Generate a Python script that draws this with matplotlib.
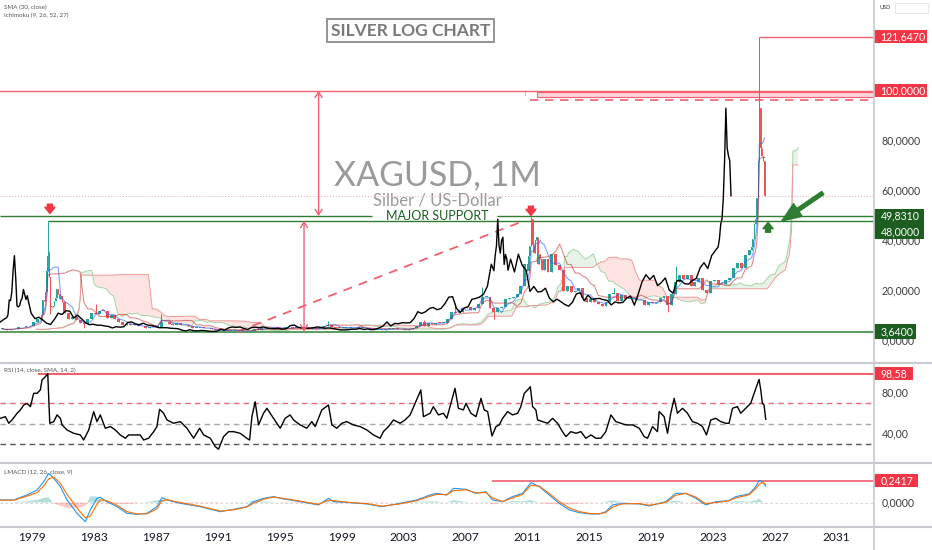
import numpy as np
import pandas as pd
import matplotlib
matplotlib.use("Agg")
import matplotlib.pyplot as plt
import matplotlib.transforms as mtransforms
from matplotlib.patches import Rectangle
from matplotlib.lines import Line2D

plt.rcParams['font.family'] = ['Lato', 'DejaVu Sans']

# XAGUSD candles: start month of each candle (quarterly, monthly around the spikes) and close
months = """
1977-01 1977-04 1977-07 1977-10
1978-01 1978-04 1978-07 1978-10
1979-01 1979-04 1979-07 1979-08 1979-09 1979-10 1979-11 1979-12
1980-01 1980-02 1980-03 1980-04 1980-05 1980-06 1980-07 1980-08 1980-09 1980-10 1980-11 1980-12
1981-01 1981-04 1981-07 1981-10
1982-01 1982-04 1982-07 1982-10
1983-01 1983-04 1983-07 1983-10
1984-01 1984-04 1984-07 1984-10
1985-01 1985-04 1985-07 1985-10
1986-01 1986-04 1986-07 1986-10
1987-01 1987-04 1987-07 1987-10
1988-01 1988-04 1988-07 1988-10
1989-01 1989-04 1989-07 1989-10
1990-01 1990-04 1990-07 1990-10
1991-01 1991-04 1991-07 1991-10
1992-01 1992-04 1992-07 1992-10
1993-01 1993-04 1993-07 1993-10
1994-01 1994-04 1994-07 1994-10
1995-01 1995-04 1995-07 1995-10
1996-01 1996-04 1996-07 1996-10
1997-01 1997-04 1997-07 1997-10
1998-01 1998-04 1998-07 1998-10
1999-01 1999-04 1999-07 1999-10
2000-01 2000-04 2000-07 2000-10
2001-01 2001-04 2001-07 2001-10
2002-01 2002-04 2002-07 2002-10
2003-01 2003-04 2003-07 2003-10
2004-01 2004-04 2004-07 2004-10
2005-01 2005-04 2005-07 2005-10
2006-01 2006-04 2006-07 2006-10
2007-01 2007-04 2007-07 2007-10
2008-01 2008-04 2008-07 2008-10
2009-01 2009-04 2009-07 2009-10
2010-01 2010-04 2010-07 2010-10
2011-01 2011-02 2011-03 2011-04 2011-05 2011-06 2011-07 2011-08 2011-09 2011-10 2011-11 2011-12
2012-01 2012-04 2012-07 2012-10
2013-01 2013-04 2013-07 2013-10
2014-01 2014-04 2014-07 2014-10
2015-01 2015-04 2015-07 2015-10
2016-01 2016-04 2016-07 2016-10
2017-01 2017-04 2017-07 2017-10
2018-01 2018-04 2018-07 2018-10
2019-01 2019-04 2019-07 2019-10
2020-01 2020-04 2020-07 2020-10
2021-01 2021-04 2021-07 2021-10
2022-01 2022-04 2022-07 2022-10
2023-01 2023-04 2023-07 2023-10
2024-01 2024-04 2024-07 2024-10
2025-01 2025-04 2025-07 2025-08 2025-09 2025-10 2025-11 2025-12
2026-01 2026-02 2026-03 2026-04 2026-05
""".split()

close = [
    4.60, 4.45, 4.55, 4.80,
    5.30, 5.35, 5.70, 6.00,
    7.50, 8.60, 9.20, 10.30, 16.30, 16.00, 19.50, 28.00,
    34.00, 25.50, 14.00, 13.50, 14.00, 16.00, 17.00, 20.50, 18.50, 16.50, 18.00, 15.50,
    11.0, 8.8, 9.4, 8.3,
    7.0, 6.5, 8.5, 11.0,
    10.5, 12.0, 11.8, 9.1,
    10.2, 8.8, 7.3, 6.4,
    6.6, 6.2, 6.2, 5.9,
    5.7, 5.1, 5.6, 5.4,
    5.6, 7.3, 7.5, 6.7,
    6.4, 7.0, 6.3, 6.1,
    5.8, 5.2, 5.2, 5.2,
    5.0, 4.9, 4.8, 4.2,
    3.9, 4.4, 4.0, 3.9,
    4.1, 4.0, 3.8, 3.7,
    3.8, 4.6, 4.2, 5.1,
    5.5, 5.3, 5.5, 4.9,
    4.5, 5.3, 5.4, 5.2,
    5.5, 5.1, 4.9, 4.8,
    4.9, 4.6, 4.8, 6.0,
    6.3, 5.4, 5.1, 5.0,
    5.0, 5.2, 5.5, 5.3,
    5.0, 5.1, 4.9, 4.6,
    4.3, 4.3, 4.4, 4.6,
    4.6, 4.9, 4.5, 4.7,
    4.4, 4.6, 5.1, 5.9,
    7.5, 5.9, 6.9, 6.8,
    7.2, 7.1, 7.2, 8.8,
    11.6, 10.9, 11.6, 12.9,
    13.3, 12.4, 12.9, 14.8,
    17.4, 17.6, 12.9, 11.3,
    13.1, 13.6, 16.6, 16.9,
    17.5, 18.6, 21.8, 30.6,
    28.0, 34.0, 37.9, 48.6, 38.1, 35.0, 40.1, 41.4, 30.5, 34.5, 32.8, 28.2,
    32.6, 27.5, 34.6, 30.1,
    28.3, 19.7, 21.7, 19.5,
    19.7, 21.0, 17.1, 15.6,
    16.6, 15.6, 14.5, 13.8,
    15.4, 18.7, 19.2, 16.0,
    18.2, 16.6, 16.8, 16.9,
    16.4, 16.1, 14.3, 15.5,
    15.1, 15.3, 17.0, 17.9,
    14.2, 18.7, 23.6, 26.4,
    24.5, 26.1, 22.0, 23.3,
    25.1, 20.3, 19.0, 24.0,
    24.1, 22.8, 22.6, 24.1,
    24.9, 29.1, 31.2, 28.9,
    34.1, 36.1, 37.5, 40.7, 46.6, 48.7, 57.0, 72.0,
    93.0, 77.0, 74.0, 72.0, 58.0,
]

# wicks that stick out of the candle bodies
wick_months = ['1980-01', '1980-02', '1983-01', '1987-04', '1993-07', '1998-01', '2004-04',
               '2006-04', '2008-01', '2011-04', '2016-07', '2020-07', '2026-01']
wick_high = [48.0, 36.0, 14.5, 10.8, 5.4, 7.8, 8.3, 15.2, 21.3, 49.831, 21.0, 29.9, 121.647]
dip_months = ['1980-03', '1982-04', '1991-01', '1993-01', '2008-10', '2020-01']
dip_low = [10.8, 4.9, 3.7, 3.64, 8.8, 11.6]

# RSI (14)
rsi_t = [1976.93, 1977.25, 1977.47, 1977.68, 1978.01, 1978.22, 1978.44, 1978.65, 1978.87, 1979.08,
         1979.30, 1979.51, 1979.62, 1979.84, 1979.99, 1980.12, 1980.38, 1980.59, 1980.81, 1980.91,
         1981.24, 1981.67, 1982.10, 1982.31, 1982.64, 1982.96, 1983.17, 1983.39, 1983.71, 1984.04,
         1984.36, 1984.68, 1985.01, 1985.22, 1985.54, 1985.97, 1986.19, 1986.51, 1986.84, 1987.05,
         1987.22, 1987.48, 1987.70, 1988.13, 1988.56, 1988.99, 1989.42, 1989.81, 1990.07, 1990.50,
         1990.82, 1991.03, 1991.36, 1991.68, 1992.00, 1992.43, 1992.86, 1993.04, 1993.19, 1993.40,
         1993.62, 1993.94, 1994.16, 1994.37, 1994.80, 1995.02, 1995.34, 1995.66, 1995.88, 1996.31,
         1996.74, 1997.06, 1997.28, 1997.71, 1998.14, 1998.36, 1998.68, 1999.00, 1999.32, 1999.75,
         2000.19, 2000.62, 2001.05, 2001.48, 2001.69, 2002.02, 2002.34, 2002.77, 2003.09, 2003.42,
         2003.74, 2004.11, 2004.28, 2004.71, 2004.92, 2005.25, 2005.57, 2005.79, 2006.11, 2006.32,
         2006.54, 2006.86, 2007.03, 2007.35, 2007.68, 2008.00, 2008.21, 2008.43, 2008.71, 2008.97,
         2009.18, 2009.40, 2009.72, 2010.04, 2010.37, 2010.58, 2010.80, 2011.01, 2011.19, 2011.34,
         2011.55, 2011.66, 2011.98, 2012.31, 2012.63, 2012.95, 2013.27, 2013.49, 2013.81, 2014.14,
         2014.46, 2014.78, 2015.11, 2015.43, 2015.75, 2016.07, 2016.40, 2016.72, 2017.04, 2017.37,
         2017.80, 2018.23, 2018.55, 2018.77, 2019.09, 2019.41, 2019.52, 2019.84, 2020.06, 2020.27,
         2020.49, 2020.70, 2021.03, 2021.35, 2021.67, 2022.00, 2022.32, 2022.58, 2022.86, 2023.18,
         2023.50, 2023.83, 2024.04, 2024.26, 2024.58, 2024.79, 2025.12, 2025.44, 2025.66, 2025.98,
         2026.09, 2026.19, 2026.30, 2026.41]
rsi = [55.2, 56.8, 50.4, 53.6, 60.1, 63.3, 68.1, 69.7, 66.5, 79.4,
       79.4, 82.6, 92.3, 95.5, 98.58, 50.4, 52.0, 58.5, 55.2, 48.8,
       43.9, 40.7, 39.1, 34.2, 43.9, 61.7, 52.0, 58.5, 45.6, 47.2,
       43.9, 39.1, 35.9, 39.1, 39.1, 39.1, 34.2, 35.9, 42.3, 47.2,
       63.9, 60.1, 53.6, 50.4, 52.0, 45.6, 35.9, 45.6, 39.1, 35.9,
       27.8, 25.3, 37.5, 42.3, 42.3, 40.7, 35.9, 34.2, 56.8, 71.3,
       48.8, 60.1, 64.9, 60.1, 50.4, 45.6, 55.2, 58.5, 53.6, 48.8,
       45.6, 52.0, 47.2, 63.3, 68.1, 48.8, 45.6, 50.4, 52.0, 48.8,
       47.2, 43.9, 39.1, 35.9, 42.3, 47.2, 53.6, 50.4, 53.6, 58.5,
       69.7, 82.6, 56.8, 60.1, 66.5, 58.5, 60.1, 55.2, 72.9, 84.2,
       64.9, 63.3, 69.7, 60.1, 56.8, 74.5, 63.3, 61.7, 38.1, 47.2,
       48.8, 55.2, 61.7, 58.5, 60.1, 66.5, 79.4, 82.6, 85.8, 66.5,
       63.3, 53.6, 52.0, 50.4, 55.2, 50.4, 42.3, 37.5, 42.3, 40.7,
       42.3, 35.9, 39.1, 35.9, 35.9, 42.3, 58.5, 52.0, 50.4, 48.8,
       48.8, 45.6, 37.5, 35.9, 47.2, 42.3, 61.7, 56.8, 40.7, 60.1,
       74.5, 60.1, 64.9, 60.1, 52.0, 50.4, 47.2, 39.1, 53.6, 55.2,
       52.0, 50.4, 50.4, 64.9, 66.5, 60.1, 64.9, 69.7, 79.4, 92.9,
       82.6, 69.7, 68.1, 54.3]

# LMACD (12, 26, 9): macd line and signal line
macd_t = [1976.93, 1977.79, 1978.65, 1979.30, 1979.73, 1980.05, 1980.38, 1980.81, 1981.24, 1981.88,
          1982.42, 1982.74, 1983.17, 1983.39, 1983.82, 1984.47, 1985.11, 1985.76, 1986.40, 1987.05,
          1987.37, 1987.70, 1988.56, 1989.85, 1991.14, 1992.00, 1992.86, 1993.29, 1993.94, 1994.59,
          1995.23, 1996.31, 1997.49, 1998.14, 1998.46, 1999.54, 2000.62, 2001.59, 2002.77, 2003.85,
          2004.71, 2005.14, 2005.79, 2006.22, 2007.03, 2007.68, 2008.32, 2008.75, 2009.40, 2010.04,
          2010.69, 2011.23, 2011.77, 2012.41, 2013.06, 2013.71, 2014.35, 2015.00, 2015.64, 2016.07,
          2016.50, 2017.15, 2018.23, 2018.87, 2019.95, 2020.60, 2021.24, 2021.89, 2022.53, 2023.18,
          2024.04, 2024.47, 2025.33, 2025.76, 2025.98, 2026.19, 2026.41]
macd = [0.028, 0.028, 0.083, 0.138, 0.229, 0.320, 0.266, 0.174, 0.028, -0.119,
        -0.211, -0.082, 0.046, 0.057, 0.009, -0.046, -0.119, -0.130, -0.119, -0.046,
        0.053, 0.028, -0.009, -0.046, -0.101, -0.075, -0.046, 0.009, 0.046, 0.065,
        0.039, 0.009, -0.027, 0.046, 0.009, -0.002, -0.016, -0.046, -0.009, 0.028,
        0.083, 0.101, 0.083, 0.156, 0.145, 0.101, 0.119, 0.028, 0.009, 0.065,
        0.101, 0.218, 0.174, 0.083, -0.009, -0.082, -0.111, -0.126, -0.126, -0.101,
        -0.027, -0.009, -0.016, -0.038, 0.009, 0.101, 0.101, 0.046, -0.027, 0.009,
        0.020, 0.065, 0.094, 0.174, 0.2417, 0.229, 0.181]
signal = [0.025, 0.025, 0.070, 0.110, 0.180, 0.260, 0.280, 0.210, 0.090, -0.060,
          -0.170, -0.150, -0.020, 0.030, 0.020, -0.030, -0.100, -0.125, -0.125, -0.070,
          0.020, 0.030, 0.000, -0.040, -0.095, -0.080, -0.050, -0.010, 0.035, 0.060,
          0.045, 0.015, -0.020, 0.025, 0.020, 0.000, -0.012, -0.040, -0.015, 0.020,
          0.070, 0.090, 0.085, 0.130, 0.140, 0.105, 0.110, 0.050, 0.010, 0.050,
          0.090, 0.190, 0.180, 0.100, 0.010, -0.060, -0.100, -0.120, -0.125, -0.110,
          -0.050, -0.015, -0.012, -0.030, 0.000, 0.080, 0.100, 0.060, -0.015, 0.000,
          0.018, 0.050, 0.085, 0.150, 0.200, 0.220, 0.200]

year_ticks = [1979, 1983, 1987, 1991, 1995, 1999, 2003, 2007, 2011, 2015, 2019, 2023, 2027, 2031]

assert len(months) == len(close)

RED = '#F23645'
RED_LINE = '#F0606F'
GREEN = '#2E7D32'
DARK_GREEN = '#1B5E20'

W, H = 932, 550
PLOT_W = 874
X0, X1 = 1976.903, 2033.41

fig = plt.figure(figsize=(9.32, 5.5), dpi=100)


def panel(top, bottom):
    return fig.add_axes([0, 1 - bottom / H, PLOT_W / W, (bottom - top) / H])


ax = panel(0, 362.7)
ax_rsi = panel(362.7, 463.3)
ax_macd = panel(463.3, 526.7)
for a in (ax, ax_rsi, ax_macd):
    a.set_xlim(X0, X1)
    a.set_xticks([])
    a.set_yticks([])
    for s in a.spines.values():
        s.set_visible(False)
ax.set_ylim(-8.8, 136.28)
ax_rsi.set_ylim(11.65, 109.04)
ax_macd.set_ylim(-0.2662, 0.4312)

# candles
start = pd.to_datetime(months, format='%Y-%m')
t_start = np.asarray(start.year + (start.month - 1) / 12, dtype=float)
dur = np.diff(np.append(t_start, t_start[-1] + 1 / 12))
t = t_start + (dur - 1 / 12) / 2
c = np.array(close)
o = np.append(c[0], c[:-1])
hi = np.maximum(o, c)
lo = np.minimum(o, c)
pos = pd.Series(np.arange(len(months)), index=months)
iw = pos.loc[wick_months].values
hi[iw] = np.maximum(hi[iw], wick_high)
idp = pos.loc[dip_months].values
lo[idp] = np.minimum(lo[idp], dip_low)

# Ichimoku from the candles
df = pd.DataFrame({'hi': hi, 'lo': lo}, index=start)


def midline(win):
    return ((df['hi'].rolling(win).max() + df['lo'].rolling(win).min()) / 2).values


tenkan = midline('260D')
kijun = midline('775D')
span_b = midline('1566D')
span_a = (tenkan + kijun) / 2
shift = 26 / 12
tl = t + shift
ax.fill_between(tl, span_a, span_b, where=span_a >= span_b, interpolate=True,
                color='#43A047', alpha=0.12, lw=0, zorder=1)
ax.fill_between(tl, span_a, span_b, where=span_a < span_b, interpolate=True,
                color='#F44336', alpha=0.15, lw=0, zorder=1)
ax.plot(tl, span_a, color='#A5D6A7', lw=0.7, zorder=1.5)
ax.plot(tl, span_b, color='#EF9A9A', lw=0.7, zorder=1.5)

up = c >= o
col = np.where(up, '#26A69A', '#EF5350')
ax.vlines(t, lo, hi, colors=col, lw=0.7, zorder=3)
ax.bar(t, np.maximum(np.abs(c - o), 0.3), bottom=np.minimum(o, c), width=dur * 0.75,
       color=col, lw=0, zorder=3)
ax.plot(t, tenkan, color='#2962FF', lw=0.8, alpha=0.6, zorder=3.5)
ax.plot(t, kijun, color='#C62828', lw=0.8, alpha=0.55, zorder=3.5)
ax.plot(t - shift, c, color='black', lw=1.0, zorder=4)

# drawings
ax.axhline(58.0, color='#E3A9B1', lw=0.7, ls=(0, (1, 2)), zorder=1)
ax.axhline(100, color=RED_LINE, lw=1.0, zorder=2)
ax.add_patch(Rectangle((2011.60, 97.6), X1 - 2011.60, 1.8, fc='#FAD4D8', ec=RED_LINE,
                       lw=0.8, zorder=2))
ax.hlines(96.3, 2011.17, X1, colors=RED_LINE, linestyles=(0, (5, 4)), lw=1.2, zorder=2)
ax.text(2010.85, 98.3, '1', fontsize=3.5, color='#999999', ha='center', va='center')
ax.hlines(121.647, 2026.0, X1, colors=RED_LINE, lw=1.0, zorder=2)

ax.hlines([49.831, 49.831], [X0, 2009.04], [2000.95, X1], colors=GREEN, lw=1.0, zorder=2)
ax.hlines(48.0, 1980.0, X1, colors=GREEN, lw=1.0, zorder=2)
ax.hlines(3.64, X0, X1, colors='#5E9E63', lw=1.5, zorder=2)
ax.text(2005.17, 48.28, 'MAJOR SUPPORT', fontsize=9, color=DARK_GREEN,
        ha='center', va='baseline', zorder=5)

ax.plot([1992.25, 2010.8], [3.64, 48.0], color=RED_LINE, lw=1.3, ls=(0, (5, 4)), zorder=2)
for x, y0, y1 in [(1997.50, 100.0, 49.831), (1996.56, 48.0, 3.64)]:
    ax.annotate('', xy=(x, y1), xytext=(x, y0),
                arrowprops=dict(arrowstyle='<->,head_length=0.4,head_width=0.25', color=RED_LINE,
                                lw=1.0, shrinkA=0, shrinkB=0, mutation_scale=10), zorder=5)


def block_arrow(x, y_from, y_to, color, scale=8):
    ax.annotate('', xy=(x, y_to), xytext=(x, y_from),
                arrowprops=dict(arrowstyle='simple,head_length=0.55,head_width=0.9,tail_width=0.45',
                                color=color, shrinkA=0, shrinkB=0, mutation_scale=scale), zorder=6)


block_arrow(1980.13, 54.6, 50.9, RED)
block_arrow(2011.23, 53.8, 50.1, RED)
block_arrow(2026.56, 43.4, 47.3, GREEN)
ax.annotate('', xy=(2027.45, 47.9), xytext=(2030.1, 59.1),
            arrowprops=dict(arrowstyle='simple,head_length=0.7,head_width=0.55,tail_width=0.13',
                            color=GREEN, shrinkA=0, shrinkB=0, mutation_scale=20), zorder=6)

# watermark and title
ax.text(2005.19, 62.3, 'XAGUSD, 1M', fontsize=24.5, color='#9A9A9A', ha='center', va='baseline',
        zorder=0.5)
ax.text(2005.16, 53.9, 'Silber / US-Dollar', fontsize=12, color='#9A9A9A', ha='center',
        va='baseline', zorder=0.5)
ax.text(2003.44, 121.9, 'SILVER LOG CHART', fontsize=12.5, fontweight='bold', color='#7A7A7A',
        ha='center', va='baseline', zorder=7,
        bbox=dict(boxstyle='square,pad=0.2', fc='white', ec='#8C8C8C', lw=1.3))

# RSI panel
ax_rsi.plot(rsi_t, rsi, color='black', lw=1.0, zorder=3)
ax_rsi.hlines(98.58, 1979.36, X1, colors=RED_LINE, lw=1.5, zorder=2)
ax_rsi.axhline(70, color='#EC6A7C', lw=1.0, ls=(0, (4, 3)), zorder=1)
ax_rsi.axhline(50, color='#A8A8A8', lw=1.0, ls=(0, (4, 3)), zorder=1)
ax_rsi.axhline(30, color='#4E5A51', lw=1.0, ls=(0, (4, 3)), zorder=1)

# LMACD panel
macd_a = np.array(macd)
hist = macd_a - np.array(signal)
ax_macd.axhline(0, color='#CFCFCF', lw=0.6, ls=(0, (3, 3)), zorder=1)
ax_macd.fill_between(macd_t, 0, hist, where=hist >= 0, interpolate=True, color='#26A69A',
                     alpha=0.35, lw=0, zorder=1)
ax_macd.fill_between(macd_t, 0, hist, where=hist < 0, interpolate=True, color='#FF5252',
                     alpha=0.3, lw=0, zorder=1)
ax_macd.plot(macd_t, macd_a, color='#2196F3', lw=0.8, zorder=3)
ax_macd.plot(macd_t, signal, color='#FF6D00', lw=0.8, zorder=3)
ax_macd.hlines(0.2417, 2008.71, X1, colors=RED_LINE, lw=1.2, zorder=2)


# right price scale
def tag(a, v, text, fc, px_per_unit, width_px, h_px=13.5):
    tr = a.get_yaxis_transform()
    h = h_px / px_per_unit
    a.add_patch(Rectangle((1.0, v - h / 2), width_px / PLOT_W, h, transform=tr, clip_on=False,
                          fc=fc, lw=0, zorder=10))
    a.text(880.5 / PLOT_W, v, text, transform=tr, color='white', fontsize=7.6, va='center',
           ha='left', zorder=11)


def price(a, v, text):
    a.text(881.5 / PLOT_W, v, text, transform=a.get_yaxis_transform(), color='#3D3D3D',
           fontsize=7.6, va='center', ha='left', zorder=5)


for v, s in [(80, '80,0000'), (60, '60,0000'), (40, '40,0000'), (20, '20,0000'), (0, '0,0000')]:
    price(ax, v, s)
tag(ax, 121.647, '121,6470', RED, 2.5, 53)
tag(ax, 100.0, '100,0000', RED, 2.5, 53)
tag(ax, 49.831, '49,8310', DARK_GREEN, 2.5, 50, 15)
tag(ax, 43.68, '48,0000', DARK_GREEN, 2.5, 50, 15)
tag(ax, 3.64, '3,6400', DARK_GREEN, 2.5, 42, 14.5)

price(ax_rsi, 80, '80,00')
price(ax_rsi, 40, '40,00')
tag(ax_rsi, 98.58, '98,58', RED, 1.033, 38.5)
price(ax_macd, 0, '0,0000')
tag(ax_macd, 0.2417, '0,2417', RED, 1 / 0.011, 44)

# time axis
tr = mtransforms.blended_transform_factory(ax_macd.transData, ax_macd.transAxes)
for yr in year_ticks:
    ax_macd.text(yr, -0.17, str(yr), transform=tr, fontsize=8.6, color='#131722',
                 ha='center', va='center')

# indicator captions
fig.text(4 / W, 1 - 7 / H, 'SMA (30, close)', fontsize=4.5, color='#555555', va='center')
fig.text(4 / W, 1 - 15.7 / H, 'Ichimoku (9, 26, 52, 27)', fontsize=4.5, color='#555555',
         va='center')
fig.text(4 / W, 1 - 370 / H, 'RSI (14, close, SMA, 14, 2)', fontsize=4.5, color='#555555',
         va='center')
fig.text(4 / W, 1 - 472 / H, 'LMACD (12, 26, close, 9)', fontsize=4.5, color='#555555',
         va='center')
fig.text(880 / W, 1 - 7.5 / H, 'USD', fontsize=4, color='#333333', va='center')
fig.add_artist(Rectangle((895 / W, 1 - 12.7 / H), 33 / W, 10 / H, transform=fig.transFigure,
                         fc='none', ec='#E3E3E3', lw=0.6))

# panel separators
for y in (362.7, 463.3, 526.7):
    fig.add_artist(Line2D([0, 1], [1 - y / H, 1 - y / H], transform=fig.transFigure,
                          color='#C8CACF', lw=1.5))
fig.add_artist(Line2D([PLOT_W / W, PLOT_W / W], [0, 1], transform=fig.transFigure,
                      color='#C8CACF', lw=1.2))

fig.savefig('out.png', dpi=100)
